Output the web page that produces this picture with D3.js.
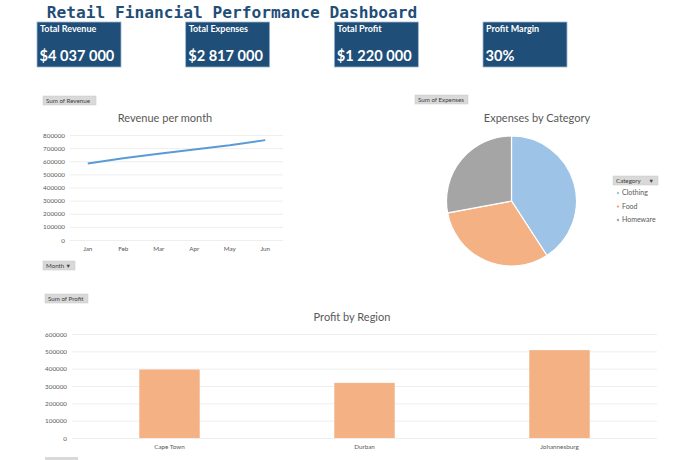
<!DOCTYPE html>
<html><head><meta charset="utf-8">
<script src="https://cdn.jsdelivr.net/npm/d3@7"></script>
<style>body{margin:0;background:#fff;}svg{display:block;}</style>
</head><body>
<svg id="c" width="680" height="460"></svg>
<script>
const kpiLabels = ["Total Revenue", "Total Expenses", "Total Profit", "Profit Margin"];
const kpiValues = ["$4 037 000", "$2 817 000", "$1 220 000", "30%"];
const months = ["Jan", "Feb", "Mar", "Apr", "May", "Jun"];
const revenue = [583000, 623000, 658000, 690000, 722000, 761000];
const revTicks = [0, 100000, 200000, 300000, 400000, 500000, 600000, 700000, 800000];
const categories = ["Clothing", "Food", "Homeware"];
const expenses = [1150000, 880000, 787000];
const regions = ["Cape Town", "Durban", "Johannesburg"];
const profit = [395000, 318000, 507000];
const profitTicks = [0, 100000, 200000, 300000, 400000, 500000, 600000];

const svg = d3.select("#c");
const F = "Lato, 'Open Sans', sans-serif";
const navy = "#1f4e79";

// Title
svg.append("text").attr("x", 232).attr("y", 18).attr("text-anchor", "middle")
  .attr("font-family", "'DejaVu Sans Mono', 'Liberation Mono', monospace")
  .attr("font-weight", "bold").attr("font-size", 16.2).attr("fill", navy)
  .text("Retail Financial Performance Dashboard");

// KPI boxes
const kx = d3.scalePoint().domain(kpiLabels).range([37, 483]);
const kpi = svg.append("g").selectAll("g").data(kpiLabels).join("g")
  .attr("transform", d => `translate(${kx(d)},22)`);
kpi.append("rect").attr("width", 84).attr("height", 45).attr("fill", navy)
  .attr("stroke", "#9fb6cf").attr("stroke-width", 0.8);
kpi.append("text").attr("x", 3).attr("y", 10).attr("fill", "#fff")
  .attr("font-family", F).attr("font-weight", "bold").attr("font-size", 9).text(d => d);
kpi.append("text").attr("x", 2.5).attr("y", 39).attr("fill", "#fff")
  .attr("font-family", F).attr("font-weight", "bold").attr("font-size", 14.6)
  .text((d, i) => kpiValues[i]);

function button(x, y, w, h, label, arrow) {
  const g = svg.append("g").attr("transform", `translate(${x},${y})`);
  g.append("rect").attr("width", w).attr("height", h).attr("fill", "#d9d9d9")
    .attr("stroke", "#c8c8c8").attr("stroke-width", 0.5);
  g.append("text").attr("x", 3).attr("y", h / 2 + 2).attr("font-family", F)
    .attr("font-size", 6.2).attr("fill", "#404040").text(label);
  if (arrow) g.append("text").attr("x", w - 4).attr("y", h / 2 + 2).attr("text-anchor", "end")
    .attr("font-family", F).attr("font-size", 5.5).attr("fill", "#404040").text("▼");
  return g;
}

// ---- Line chart ----
button(43, 96, 53, 9, "Sum of Revenue");
button(43, 261, 32, 9, "Month", true);
svg.append("text").attr("x", 165).attr("y", 122).attr("text-anchor", "middle")
  .attr("font-family", F).attr("font-size", 11).attr("fill", "#595959").text("Revenue per month");
const lx = d3.scaleBand().domain(months).range([70, 283]);
const ly = d3.scaleLinear().domain([0, 800000]).range([240, 135]);
const gLy = svg.append("g").attr("transform", "translate(70,0)")
  .call(d3.axisLeft(ly).tickValues(revTicks).tickFormat(d3.format("d")).tickSize(-213).tickPadding(5));
gLy.select(".domain").remove();
gLy.selectAll(".tick line").attr("stroke", "#e6e6e6").attr("stroke-width", 0.7);
gLy.selectAll(".tick text").attr("font-family", F).attr("font-size", 6.3).attr("fill", "#595959");
const gLx = svg.append("g").attr("transform", "translate(0,240)")
  .call(d3.axisBottom(lx).tickSize(0).tickPadding(7));
gLx.select(".domain").remove();
gLx.selectAll(".tick text").attr("font-family", F).attr("font-size", 6.3).attr("fill", "#595959");
svg.append("path").datum(revenue)
  .attr("d", d3.line().x((d, i) => lx(months[i]) + lx.bandwidth() / 2).y(d => ly(d)))
  .attr("fill", "none").attr("stroke", "#5b9bd5").attr("stroke-width", 2);

// ---- Pie chart ----
button(415, 95, 53, 9, "Sum of Expenses");
svg.append("text").attr("x", 537).attr("y", 122).attr("text-anchor", "middle")
  .attr("font-family", F).attr("font-size", 11).attr("fill", "#595959").text("Expenses by Category");
const pieColor = d3.scaleOrdinal().domain(categories).range(["#9dc3e6", "#f4b183", "#a5a5a5"]);
const arcs = d3.pie().sort(null)(expenses);
svg.append("g").attr("transform", "translate(511.5,201)").selectAll("path").data(arcs).join("path")
  .attr("d", d3.arc().innerRadius(0).outerRadius(65))
  .attr("fill", (d, i) => pieColor(categories[i])).attr("stroke", "#fff").attr("stroke-width", 1.2);
button(613, 176, 45, 9, "Category", true);
const leg = svg.append("g").selectAll("g").data(categories).join("g")
  .attr("transform", (d, i) => `translate(618,${195 + i * 13.5})`);
leg.append("circle").attr("r", 1.2).attr("cy", -2).attr("fill", d => pieColor(d));
leg.append("text").attr("x", 4).attr("y", 0).attr("font-family", F).attr("font-size", 7)
  .attr("fill", "#595959").text(d => d);

// ---- Bar chart ----
button(45, 294, 43, 9, "Sum of Profit");
svg.append("text").attr("x", 352).attr("y", 321).attr("text-anchor", "middle")
  .attr("font-family", F).attr("font-size", 11).attr("fill", "#595959").text("Profit by Region");
const bx = d3.scaleBand().domain(regions).range([72, 657]).paddingInner(0.69).paddingOuter(0.345);
const by = d3.scaleLinear().domain([0, 600000]).range([438, 334]);
const gBy = svg.append("g").attr("transform", "translate(72,0)")
  .call(d3.axisLeft(by).tickValues(profitTicks).tickFormat(d3.format("d")).tickSize(-585).tickPadding(5));
gBy.select(".domain").remove();
gBy.selectAll(".tick line").attr("stroke", "#e6e6e6").attr("stroke-width", 0.7);
gBy.selectAll(".tick text").attr("font-family", F).attr("font-size", 6.3).attr("fill", "#595959");
svg.append("g").selectAll("rect").data(profit).join("rect")
  .attr("x", (d, i) => bx(regions[i])).attr("width", bx.bandwidth())
  .attr("y", d => by(d)).attr("height", d => by(0) - by(d)).attr("fill", "#f4b183");
const gBx = svg.append("g").attr("transform", "translate(0,438)")
  .call(d3.axisBottom(bx).tickSize(0).tickPadding(7));
gBx.select(".domain").remove();
gBx.selectAll(".tick text").attr("font-family", F).attr("font-size", 6.3).attr("fill", "#595959");
svg.append("rect").attr("x", 45).attr("y", 457).attr("width", 33).attr("height", 9).attr("fill", "#d9d9d9");
</script>
</body></html>
